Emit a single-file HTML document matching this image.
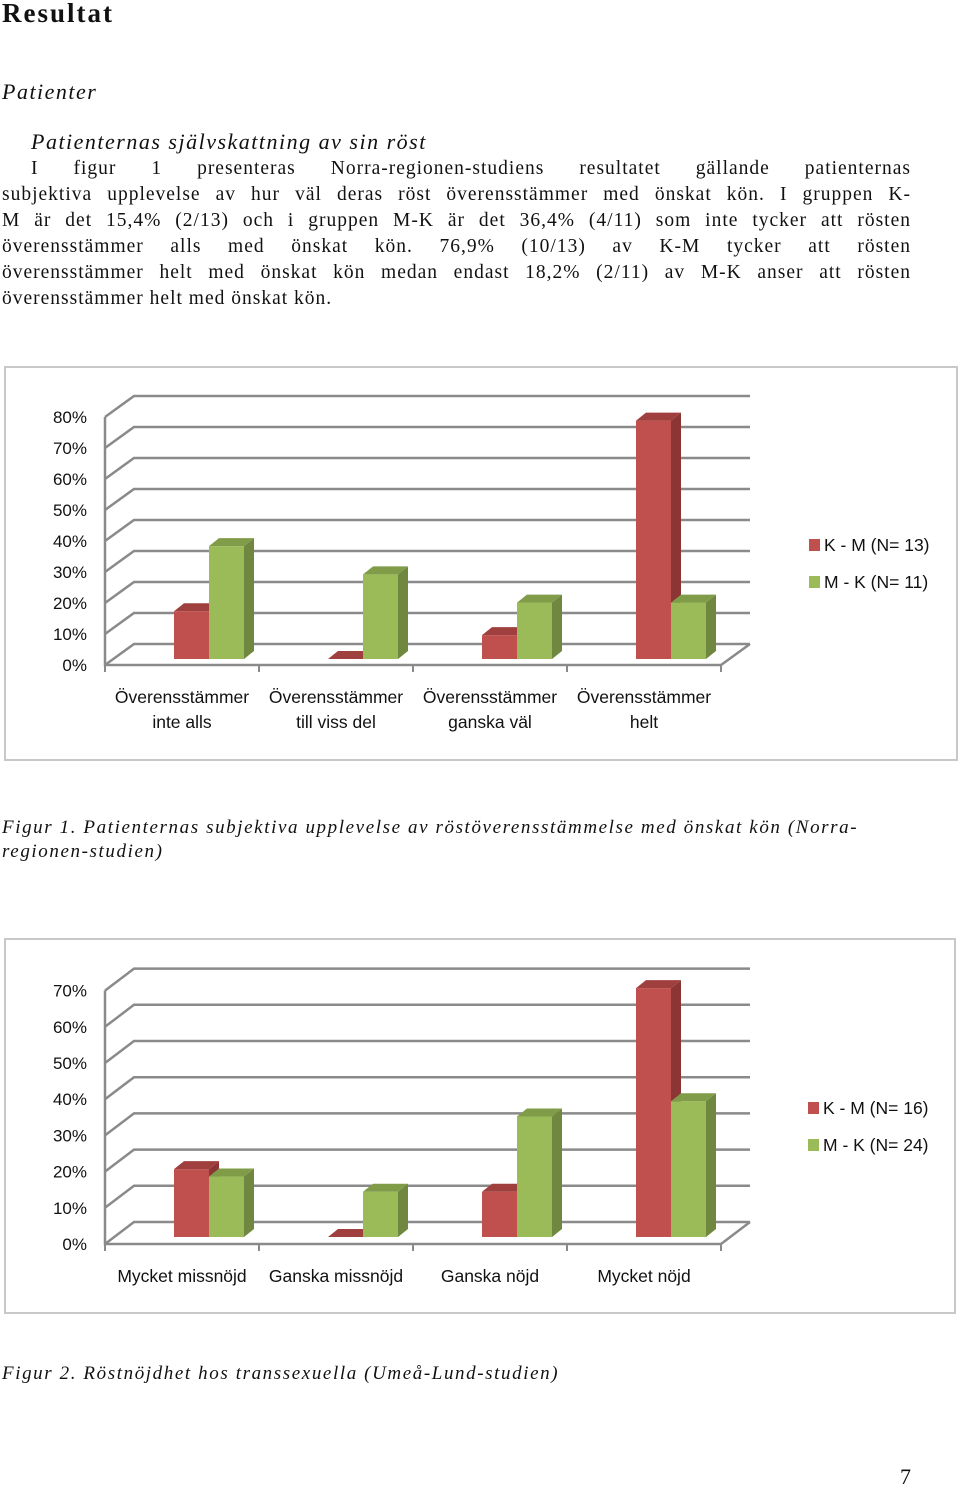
<!DOCTYPE html>
<html><head><meta charset="utf-8">
<style>
body{margin:0;background:#fff;width:960px;height:1490px;position:relative;overflow:hidden;font-family:"Liberation Serif",serif;color:#111}
.t{position:absolute;white-space:nowrap}
.ln{position:absolute;left:2px;width:909px;font-size:19.5px;letter-spacing:1px;text-align:justify;text-align-last:justify;white-space:nowrap;line-height:26px}
.box{position:absolute;border:2px solid #c8c8c8;box-sizing:border-box}
svg text{font-family:"Liberation Sans",sans-serif;fill:#111}
</style></head><body>
<div class="t" style="left:2px;top:-2px;font-size:27px;font-weight:bold;letter-spacing:2px">Resultat</div>
<div class="t" style="left:2px;top:79px;font-size:22px;font-style:italic;letter-spacing:1.5px">Patienter</div>
<div class="t" style="left:31px;top:129px;font-size:22px;font-style:italic;letter-spacing:1.5px">Patienternas självskattning av sin röst</div>
<div>
<div class="ln" style="top:156px;left:31px;width:880px">I figur 1 presenteras Norra-regionen-studiens resultatet gällande patienternas</div>
<div class="ln" style="top:182px">subjektiva upplevelse av hur väl deras röst överensstämmer med önskat kön. I gruppen K-</div>
<div class="ln" style="top:208px">M är det 15,4% (2/13) och i gruppen M-K är det 36,4% (4/11) som inte tycker att rösten</div>
<div class="ln" style="top:234px">överensstämmer alls med önskat kön. 76,9% (10/13) av K-M tycker att rösten</div>
<div class="ln" style="top:260px">överensstämmer helt med önskat kön medan endast 18,2% (2/11) av M-K anser att rösten</div>
<div class="ln" style="top:286px;text-align-last:left;width:auto">överensstämmer helt med önskat kön.</div>
</div>
<div class="box" style="left:4px;top:366px;width:954px;height:395px"></div>
<div class="box" style="left:4px;top:938px;width:952px;height:376px"></div>
<div class="t" style="left:2px;top:816px;font-size:19px;font-style:italic;letter-spacing:1.6px;line-height:24px">Figur 1. Patienternas subjektiva upplevelse av röstöverensstämmelse med önskat kön (Norra-<br>regionen-studien)</div>
<div class="t" style="left:2px;top:1363px;font-size:19px;font-style:italic;letter-spacing:1.6px">Figur 2. Röstnöjdhet hos transsexuella (Umeå-Lund-studien)</div>
<div class="t" style="left:900px;top:1464px;font-size:22px">7</div>
<svg id="svg" width="960" height="1490" style="position:absolute;left:0;top:0"></svg>
<script>
const cats1 = [["Överensstämmer","inte alls"],["Överensstämmer","till viss del"],["Överensstämmer","ganska väl"],["Överensstämmer","helt"]];
const km1 = [15.4, 0, 7.7, 76.9];
const mk1 = [36.4, 27.3, 18.2, 18.2];
const ticks1 = ["0%","10%","20%","30%","40%","50%","60%","70%","80%"];
const legend1 = ["K - M (N= 13)","M - K (N= 11)"];
const cats2 = [["Mycket missnöjd"],["Ganska missnöjd"],["Ganska nöjd"],["Mycket nöjd"]];
const km2 = [18.75, 0, 12.5, 68.75];
const mk2 = [16.7, 12.5, 33.3, 37.5];
const ticks2 = ["0%","10%","20%","30%","40%","50%","60%","70%"];
const legend2 = ["K - M (N= 16)","M - K (N= 24)"];

const NS="http://www.w3.org/2000/svg";
const svg=document.getElementById('svg');
function mk(tag,attrs,parent){const e=document.createElementNS(NS,tag);for(const k in attrs)e.setAttribute(k,attrs[k]);(parent||svg).appendChild(e);return e;}
function chart(id,g,cats,s1,s2,ticks,legend){
  const grp=mk('g',{});
  
  
  const step=g.pxPer10;
  const yF=v=>g.y0-v/10*step;           // front axis
  const yB=v=>g.y0-g.dy-v/10*step;      // back plane
  const xL=g.x0, xR=g.x0+4*g.cw;
  const stroke='#8a8a8a';
  ticks.forEach((t,i)=>{
    const v=i*10;
    const l=mk('polyline',{points:`${xL},${yF(v)} ${xL+g.dx},${yB(v)} ${xR+g.dx},${yB(v)}`,fill:'none',stroke:stroke,'stroke-width':2.5},grp);
    
    
    const tx=mk('text',{x:g.x0-18,y:yF(v)+6,'text-anchor':'end','font-size':17},grp);
    tx.textContent=t;
    
    
  });
  const ax=mk('polyline',{points:`${xL},${yF(ticks.length-1)*0+yF((ticks.length-1)*10)} ${xL},${yF(0)} ${xR},${yF(0)} ${xR+g.dx},${yB(0)}`,fill:'none',stroke:stroke,'stroke-width':2.5},grp);
  
  
  for(let k=0;k<=4;k++){
    const tk=mk('line',{x1:xL+k*g.cw,y1:yF(0),x2:xL+k*g.cw,y2:yF(0)+7,stroke:stroke,'stroke-width':2},grp);
    
    
  }
  const cols=[['#c0504d','#8b3634','#a0403e'],['#9bbb59','#6f873e','#809c49']];
  const bw=g.bw, d=10, dd=8;
  const base=g.barBase;
  cats.forEach((c,i)=>{
    const cx=xL+(i+0.5)*g.cw+g.shift;
    [s1,s2].forEach((ser,j)=>{
      const h=ser[i]/10*step;
      const x=cx-bw+j*bw, y=base-h;
      const b=mk('g',{},grp);
      
      
      mk('rect',{x:x,y:y,width:bw,height:h,fill:cols[j][0]},b);
      mk('polygon',{points:`${x+bw},${y} ${x+bw+d},${y-dd} ${x+bw+d},${base-dd} ${x+bw},${base}`,fill:cols[j][1]},b);
      mk('polygon',{points:`${x},${y} ${x+d},${y-dd} ${x+bw+d},${y-dd} ${x+bw},${y}`,fill:cols[j][2]},b);
    });
    c.forEach((line,li)=>{
      const t=mk('text',{x:xL+(i+0.5)*g.cw,y:g.labelY+li*25,'text-anchor':'middle','font-size':17.5},grp);
      t.textContent=line;
      
      
    });
  });
  legend.forEach((l,j)=>{
    const r=mk('rect',{x:g.legX,y:g.legY+j*37-11,width:11,height:12,fill:cols[j][0]},grp);
    
    
    const t=mk('text',{x:g.legX+15,y:g.legY+j*37+1,'font-size':17.5},grp);
    t.textContent=l;
    
    
  });
}
chart('chart1',{x0:105,y0:665,dx:29,dy:21,pxPer10:31,cw:154,bw:35,shift:27,barBase:659,labelY:703,legX:809,legY:550},cats1,km1,mk1,ticks1,legend1);
chart('chart2',{x0:105,y0:1244,dx:29,dy:22,pxPer10:36.2,cw:154,bw:35,shift:27,barBase:1237,labelY:1282,legX:808,legY:1113},cats2,km2,mk2,ticks2,legend2);
</script>
</body></html>
